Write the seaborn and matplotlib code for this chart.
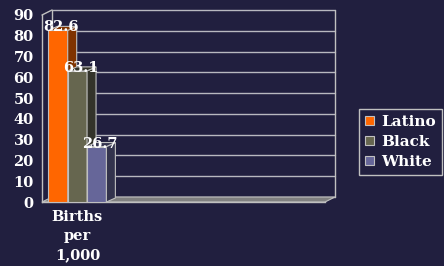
# Births per 1,000 by group, pseudo-3D column chart
import matplotlib
matplotlib.use("Agg")
import matplotlib.pyplot as plt
from matplotlib.patches import Polygon
import seaborn as sns
import pandas as pd

# * 1. Data
groups = ["Latino", "Black", "White"]
values = [82.6, 63.1, 26.7]
category = "Births\nper\n1,000"
y_ticks = [0, 10, 20, 30, 40, 50, 60, 70, 80, 90]
n_slots = 4

front_colors = ["#FF6600", "#66664F", "#666699"]
side_colors = ["#7F3300", "#33332A", "#33334D"]
bg = "#211F3F"
line_col = "#C0C0C0"

df = pd.DataFrame({"cat": [category] * 3, "group": groups, "value": values})

# * 2. Figure
sns.set_style("dark")
plt.rcParams["font.family"] = ["DejaVu Serif"]
plt.rcParams["font.weight"] = "bold"
fig = plt.figure(figsize=(4.44, 2.66), dpi=100, facecolor=bg)
ax = fig.add_axes([42 / 444, 64 / 266, 283 / 444, 187 / 266])
ax.set_facecolor("none")

sns.barplot(
    data=df, x="cat", y="value", hue="group", hue_order=groups,
    palette=front_colors, saturation=1, width=0.82, ax=ax,
    edgecolor=line_col, linewidth=0.8, legend=False,
)
ax.set_xlim(-0.5, n_slots - 0.5)
ax.set_ylim(0, 90)
rects = list(ax.patches)


def shift(x, y, dx, dy):
    px, py = ax.transData.transform((x, y))
    return ax.transData.inverted().transform((px + dx, py + dy))


# back wall, floor
wdx, wdy = 10, 5
x0, x1 = -0.5, n_slots - 0.5
for t in y_ticks:
    a = shift(x0, t, wdx, wdy)
    b = shift(x1, t, wdx, wdy)
    ax.plot([a[0], b[0]], [a[1], b[1]], color="#B8B8C0", lw=1,
            zorder=0.5, clip_on=False)
tl = shift(x0, 90, wdx, wdy)
tr = shift(x1, 90, wdx, wdy)
br = shift(x1, 0, wdx, wdy)
bl = shift(x0, 0, wdx, wdy)
ax.plot([tr[0], br[0]], [tr[1], br[1]], color=line_col, lw=1, zorder=0.5, clip_on=False)
ax.plot([x0, tl[0]], [90, tl[1]], color=line_col, lw=1, zorder=0.5, clip_on=False)
ax.plot([tl[0], bl[0]], [tl[1], bl[1]], color=line_col, lw=1, zorder=0.5, clip_on=False)
ax.add_patch(Polygon([(x0, 0), (x1, 0), br, bl], closed=True,
                     facecolor="#808080", edgecolor=line_col, lw=0.8,
                     zorder=0.6, clip_on=False))

# bar sides and tops
bdx, bdy = 9, 4
for i, r in enumerate(rects):
    xa, xb, h = r.get_x(), r.get_x() + r.get_width(), r.get_height()
    r.set_zorder(2 + i * 2)
    side = [(xb, 0), (xb, h), shift(xb, h, bdx, bdy), shift(xb, 0, bdx, bdy)]
    top = [(xa, h), (xb, h), shift(xb, h, bdx, bdy), shift(xa, h, bdx, bdy)]
    for poly in (side, top):
        ax.add_patch(Polygon(poly, closed=True, facecolor=side_colors[i],
                             edgecolor=line_col, lw=0.8, zorder=2.5 + i * 2,
                             clip_on=False))
    ax.annotate(f"{values[i]}", (xa + r.get_width() / 2, h), xytext=(3, 3),
                textcoords="offset pixels", ha="center", va="center",
                color="white", fontsize=10.5, fontweight="bold", zorder=20)

# * 3. Axes styling
for s in ["top", "right"]:
    ax.spines[s].set_visible(False)
for s in ["left", "bottom"]:
    ax.spines[s].set_color(line_col)
    ax.spines[s].set_linewidth(1)
    ax.spines[s].set_zorder(1)
ax.set_yticks(y_ticks)
ax.tick_params(axis="y", colors=line_col, length=4, width=1, direction="out",
               labelcolor="white", labelsize=10.5, pad=2)
ax.set_xticks([0])
ax.set_xticklabels([category], linespacing=1.45)
ax.set_xticks([x0 + k for k in range(n_slots + 1)], minor=True)
ax.tick_params(axis="x", which="major", length=0, labelcolor="white",
               labelsize=10.5, pad=6)
ax.tick_params(axis="x", which="minor", length=3, color=line_col, width=1)
for lab in ax.get_xticklabels() + ax.get_yticklabels():
    lab.set_fontweight("bold")
ax.set_xlabel("")
ax.set_ylabel("")
ax.grid(False)

# legend
handles = [plt.Rectangle((0, 0), 1, 1, facecolor=c, edgecolor=line_col, lw=0.8)
           for c in front_colors]
leg = fig.legend(
    handles, groups, loc="center left", bbox_to_anchor=(359 / 444, 124 / 266),
    frameon=True, fancybox=False, facecolor=bg, edgecolor=line_col,
    framealpha=1, handlelength=0.55, handleheight=0.55, handletextpad=0.5,
    labelspacing=0.38, borderpad=0.4, borderaxespad=0,
    prop={"family": "DejaVu Serif", "weight": "bold", "size": 11},
)
for t in leg.get_texts():
    t.set_color("white")

fig.savefig("out.png", dpi=100, facecolor=bg)
